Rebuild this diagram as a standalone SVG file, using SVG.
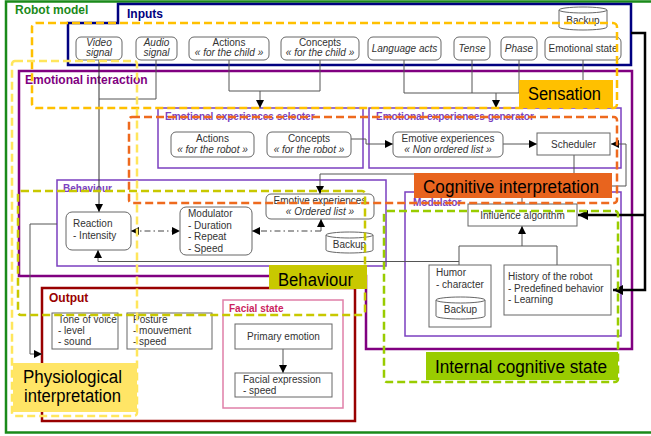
<svg xmlns="http://www.w3.org/2000/svg" width="651" height="436" viewBox="0 0 651 436">
<defs>
<style>
text{font-family:"Liberation Sans",Arial,sans-serif;fill:#333;font-size:10px}
.t{font-weight:bold;font-size:12px}
.st{font-weight:bold;font-size:10px;fill:#7B3FC0}
.it{font-style:italic}
.c{text-anchor:middle}
.n{fill:#fff;stroke:#666;stroke-width:1}
.sub{fill:none;stroke:#7B3FC0;stroke-width:1.5}
.ln{fill:none;stroke:#555;stroke-width:1}
.dd{fill:none;stroke:#444;stroke-width:1;stroke-dasharray:6 3 1.5 3}
.thick{fill:none;stroke:#000;stroke-width:2.5}
.dash{fill:none;stroke-width:2.5;stroke-dasharray:8 4}
.big{font-size:18px;fill:#000}
</style>
<marker id="a" viewBox="0 0 10 10" refX="10" refY="5" markerWidth="9" markerHeight="8" orient="auto-start-reverse" markerUnits="userSpaceOnUse"><path d="M0,0 L10,5 L0,10 z" fill="#000"/></marker>
<marker id="b" viewBox="0 0 10 10" refX="10" refY="5" markerWidth="14" markerHeight="10" orient="auto" markerUnits="userSpaceOnUse"><path d="M0,0 L10,5 L0,10 z" fill="#000"/></marker>
</defs>
<rect width="651" height="436" fill="#fff"/>

<g id="robot-model">
<rect x="6" y="1.5" width="660" height="431" fill="none" stroke="#1A8A1A" stroke-width="2.5"/>
<text x="15" y="14" class="t" style="fill:#1A8A1A">Robot model</text>
</g>

<g id="inputs">
<path d="M118,4 H631 V65 H68 V23 H118 Z" fill="none" stroke="#000080" stroke-width="2.5"/>
<text x="127" y="18" class="t" style="fill:#000080">Inputs</text>
</g>

<g id="emotional-interaction">
<path d="M19,71 H632 V349 H366 V276 H19 Z" fill="none" stroke="#800080" stroke-width="2.5"/>
<text x="25" y="84" class="t" style="fill:#800080">Emotional interaction</text>
</g>

<g id="selecter">
<rect x="158" y="108" width="205" height="60" class="sub"/>
<text x="165" y="120" class="st">Emotional experiences selecter</text>
</g>
<g id="generator">
<rect x="369" y="108" width="252" height="60" class="sub"/>
<text x="376" y="120" class="st">Emotional experiences generator</text>
</g>
<g id="behaviour">
<rect x="57" y="180" width="329" height="86" class="sub"/>
<text x="63" y="192" class="st">Behaviour</text>
</g>
<g id="modulator-group">
<rect x="405" y="192" width="216" height="144" class="sub"/>
<text x="413" y="206" class="st">Modulator</text>
</g>
<g id="output">
<rect x="42" y="288" width="313" height="133" fill="none" stroke="#990000" stroke-width="2.5"/>
<text x="49" y="302" class="t" style="fill:#990000">Output</text>
</g>
<g id="facial-state">
<rect x="223" y="300" width="120" height="108" fill="none" stroke="#E07FA8" stroke-width="1.5"/>
<text x="229" y="312" style="font-weight:bold;fill:#CC1F5F">Facial state</text>
</g>

<g id="connectors">
<path class="ln" style="stroke:#333" d="M99,60 V212" marker-end="url(#a)"/>
<path class="ln" d="M156,60 V99 H99"/>
<path class="ln" d="M229,60 V91 H320 V60"/>
<path class="ln" d="M260,91 V108" marker-end="url(#a)"/>
<path class="ln" d="M404,60 V93 H583 V60"/>
<path class="ln" d="M472,60 V93"/>
<path class="ln" d="M519,60 V93"/>
<path class="ln" d="M496,93 V108" marker-end="url(#a)"/>
<path class="ln" d="M351,139 H366 V144 H393" marker-end="url(#a)"/>
<path class="ln" d="M503,144 H537" marker-end="url(#a)"/>
<path class="ln" d="M590,186 H626 V144 H611" marker-end="url(#a)"/>
<path class="ln" d="M574,155 V174 H320 V194" marker-end="url(#a)"/>
<path class="ln" d="M522,174 V204"/>
<path class="dd" d="M131,231 H180" marker-start="url(#a)" marker-end="url(#a)"/>
<path class="dd" d="M321,231 H252" marker-end="url(#a)"/>
<path class="ln" d="M321,231 V219" marker-end="url(#a)"/>
<path class="ln" d="M557,265 V246 H459 V265"/>
<path class="ln" d="M522,246 V226" marker-end="url(#a)"/>
<path class="ln" d="M459,261.5 H98 V250" marker-end="url(#a)"/>
<path class="ln" d="M57,224 H30 V354 H42" marker-end="url(#a)"/>
<path class="ln" d="M283,349 V373" marker-end="url(#a)"/>
<path class="thick" d="M631,33 H645 V290 H613" marker-end="url(#b)"/>
<path class="thick" d="M645,215 H578" marker-end="url(#b)"/>
</g>

<g id="video-signal"><rect x="76" y="37" width="46" height="23" rx="5" class="n"/><text x="99" y="45.5" class="c it">Video</text><text x="99" y="56" class="c it">signal</text></g>
<g id="audio-signal"><rect x="136" y="37" width="41" height="23" rx="5" class="n"/><text x="156.5" y="45.5" class="c it">Audio</text><text x="156.5" y="56" class="c it">signal</text></g>
<g id="actions-child"><rect x="189" y="37" width="80" height="23" rx="5" class="n"/><text x="229" y="45.5" class="c">Actions</text><text x="229" y="56" class="c it">« for the child »</text></g>
<g id="concepts-child"><rect x="281" y="37" width="78" height="23" rx="5" class="n"/><text x="320" y="45.5" class="c">Concepts</text><text x="320" y="56" class="c it">« for the child »</text></g>
<g id="language-acts"><rect x="368" y="37" width="73" height="23" rx="5" class="n"/><text x="404.5" y="52" class="c it">Language acts</text></g>
<g id="tense"><rect x="454" y="37" width="36" height="23" rx="5" class="n"/><text x="472" y="52" class="c it">Tense</text></g>
<g id="phase"><rect x="501" y="37" width="36" height="23" rx="5" class="n"/><text x="519" y="52" class="c it">Phase</text></g>
<g id="emotional-state"><rect x="545" y="37" width="76" height="23" rx="5" class="n"/><text x="583" y="52" class="c">Emotional state</text></g>
<g id="backup-inputs"><path class="n" d="M559,10 A24,3 0 0 1 607,10 V27 A24,3 0 0 1 559,27 Z M559,10 A24,3 0 0 0 607,10"/><text x="583" y="24" class="c">Backup</text></g>

<g id="actions-robot"><rect x="171" y="132" width="83" height="25" rx="5" class="n"/><text x="212.5" y="142" class="c">Actions</text><text x="212.5" y="153" class="c it">« for the robot »</text></g>
<g id="concepts-robot"><rect x="267" y="132" width="84" height="25" rx="5" class="n"/><text x="309" y="142" class="c">Concepts</text><text x="309" y="153" class="c it">« for the robot »</text></g>
<g id="emotive-non-ordered"><rect x="393" y="132" width="110" height="25" rx="5" class="n"/><text x="448" y="142" class="c">Emotive experiences</text><text x="448" y="153" class="c it">« Non ordered list »</text></g>
<g id="scheduler"><rect x="537" y="133" width="73" height="22" class="n"/><text x="573.5" y="147.5" class="c">Scheduler</text></g>

<g id="reaction"><rect x="66" y="212" width="65" height="38" rx="6" class="n"/><text x="73" y="227">Reaction</text><text x="73" y="238.5">- Intensity</text></g>
<g id="modulator"><rect x="180" y="207" width="72" height="48" rx="6" class="n"/><text x="188" y="217">Modulator</text><text x="188" y="228.5">- Duration</text><text x="188" y="240">- Repeat</text><text x="188" y="251.5">- Speed</text></g>
<g id="emotive-ordered"><rect x="266" y="194" width="108" height="25" rx="5" class="n"/><text x="320" y="204" class="c">Emotive experiences</text><text x="320" y="215" class="c it">« Ordered list »</text></g>
<g id="backup-behaviour"><path class="n" d="M326,235 A23.5,3 0 0 1 373,235 V250 A23.5,3 0 0 1 326,250 Z M326,235 A23.5,3 0 0 0 373,235"/><text x="349.5" y="248" class="c">Backup</text></g>

<g id="influence-algorithm"><rect x="468" y="204" width="109" height="22" class="n"/><text x="522.5" y="218.5" class="c">Influence algorithm</text></g>
<g id="humor"><rect x="429" y="265" width="62" height="62" class="n"/><text x="436" y="276">Humor</text><text x="436" y="287.5">- character</text>
<path class="n" d="M436,300 A24.5,3 0 0 1 485,300 V316 A24.5,3 0 0 1 436,316 Z M436,300 A24.5,3 0 0 0 485,300"/><text x="460.5" y="313" class="c">Backup</text></g>
<g id="history"><rect x="504" y="265" width="107" height="50" class="n"/><text x="508" y="280">History of the robot</text><text x="508" y="291.5">- Predefined behavior</text><text x="508" y="303">- Learning</text></g>

<g id="tone-of-voice"><rect x="52" y="313" width="66" height="36" class="n"/><text x="58" y="322.5">Tone of voice</text><text x="58" y="334">- level</text><text x="58" y="345">- sound</text></g>
<g id="posture"><rect x="127" y="313" width="85" height="36" class="n"/><text x="133" y="322.5">Posture</text><text x="133" y="334">- mouvement</text><text x="133" y="345">- speed</text></g>
<g id="primary-emotion"><rect x="235" y="324" width="97" height="25" class="n"/><text x="283.5" y="340" class="c">Primary emotion</text></g>
<g id="facial-expression"><rect x="235" y="373" width="97" height="24" class="n"/><text x="243" y="382.5">Facial expression</text><text x="243" y="394">- speed</text></g>

<g id="sensation">
<rect x="32" y="23" width="585" height="85" rx="4" class="dash" stroke="#FFC000"/>
<rect x="519" y="80" width="94" height="28" fill="#FFC000"/>
<text x="528" y="100" class="big" textLength="73" lengthAdjust="spacingAndGlyphs">Sensation</text>
</g>
<g id="physiological-interpretation">
<rect x="12" y="61" width="125" height="355" rx="3" class="dash" stroke="#FFE65C"/>
<rect x="13" y="363" width="124" height="49" fill="#FFE566"/>
<text x="23" y="383" class="big" textLength="99" lengthAdjust="spacingAndGlyphs">Physiological</text>
<text x="24" y="402" class="big" textLength="97" lengthAdjust="spacingAndGlyphs">interpretation</text>
</g>
<g id="cognitive-interpretation">
<rect x="129" y="117" width="488" height="86" rx="3" class="dash" stroke="#EE6A1E"/>
<rect x="414" y="173" width="198" height="25" fill="#E8641E"/>
<text x="423" y="193" class="big" textLength="176" lengthAdjust="spacingAndGlyphs">Cognitive  interpretation</text>
</g>
<g id="behaviour-area">
<rect x="18" y="191" width="347" height="124" rx="3" class="dash" stroke="#C8C800"/>
<rect x="269" y="265" width="98" height="24" fill="#C8C800"/>
<text x="278" y="286" class="big" textLength="75" lengthAdjust="spacingAndGlyphs">Behaviour</text>
</g>
<g id="internal-cognitive-state">
<rect x="384" y="211" width="234" height="171" rx="3" class="dash" stroke="#99CC00"/>
<rect x="426" y="352" width="192" height="28" fill="#99CC00"/>
<text x="435" y="373" class="big" textLength="172" lengthAdjust="spacingAndGlyphs">Internal  cognitive  state</text>
</g>
</svg>
